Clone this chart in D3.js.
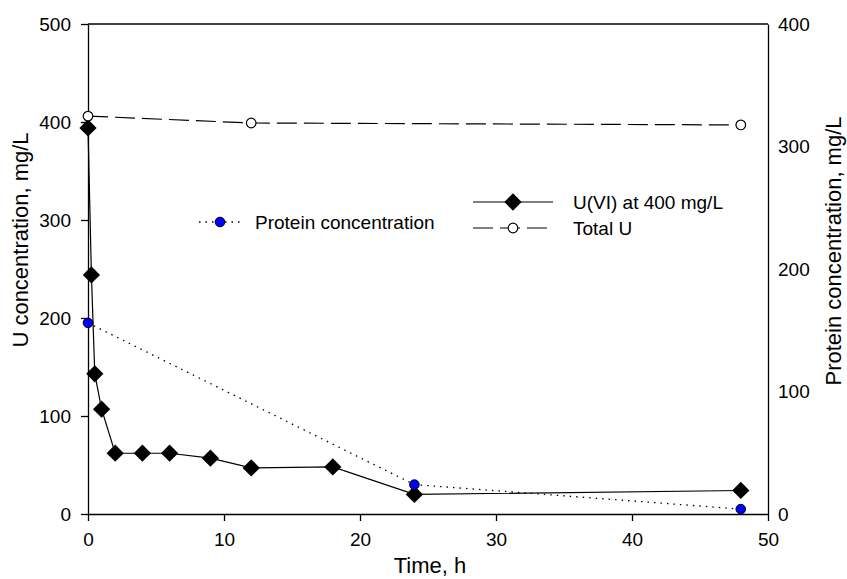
<!DOCTYPE html>
<html>
<head>
<meta charset="utf-8">
<script src="https://cdn.jsdelivr.net/npm/d3@7"></script>
<style>
  body { margin: 0; background: #fff; }
  text { font-family: "Liberation Sans", Arial, sans-serif; fill: #000; }
</style>
</head>
<body>
<svg id="chart" width="847" height="579"></svg>
<script>
// data
const uviTime = [0, 0.25, 0.5, 1, 2, 4, 6, 9, 12, 18, 24, 48];
const uviConc = [394, 244, 143, 107, 62, 62, 62, 57, 47, 48, 20, 24];

const totalTime = [0, 12, 48];
const totalConc = [406, 399, 397];

const proteinTime = [0, 24, 48];
const proteinConc = [156, 24, 4];

const xTicks = [0, 10, 20, 30, 40, 50];
const leftTicks = [0, 100, 200, 300, 400, 500];
const rightTicks = [0, 100, 200, 300, 400];

const svg = d3.select('#chart');
const width = 847, height = 579;
const margin = { top: 24, right: 79, bottom: 65, left: 88 };

const x = d3.scaleLinear().domain([0, 50]).range([margin.left, width - margin.right]);
const yL = d3.scaleLinear().domain([0, 500]).range([height - margin.bottom, margin.top]);
const yR = d3.scaleLinear().domain([0, 400]).range([height - margin.bottom, margin.top]);

const tickFont = '19px';
const titleFont = '22px';

// top frame line
svg.append('line')
    .attr('x1', x(0)).attr('x2', x(50))
    .attr('y1', yL(500)).attr('y2', yL(500))
    .attr('stroke', '#000').attr('stroke-width', 1.3);

const gx = svg.append('g')
    .attr('transform', `translate(0,${height - margin.bottom})`)
    .call(d3.axisBottom(x).tickValues(xTicks).tickSize(7).tickSizeOuter(0).tickPadding(12));

const gl = svg.append('g')
    .attr('transform', `translate(${margin.left},0)`)
    .call(d3.axisLeft(yL).tickValues(leftTicks).tickSize(7).tickSizeOuter(0).tickPadding(10));

const gr = svg.append('g')
    .attr('transform', `translate(${width - margin.right},0)`)
    .call(d3.axisRight(yR).tickValues(rightTicks).tickSize(0).tickSizeOuter(0).tickPadding(10));

[gx, gl, gr].forEach(g => {
    g.selectAll('path.domain').attr('stroke', '#000').attr('stroke-width', 1.3);
    g.selectAll('.tick line').attr('stroke', '#000').attr('stroke-width', 1.3);
    g.selectAll('.tick text')
        .attr('font-family', '"Liberation Sans", Arial, sans-serif')
        .attr('font-size', tickFont)
        .attr('fill', '#000');
});

// axis titles
svg.append('text')
    .attr('x', 430).attr('y', 573)
    .attr('text-anchor', 'middle')
    .attr('font-size', titleFont)
    .text('Time, h');

svg.append('text')
    .attr('transform', 'translate(28,240) rotate(-90)')
    .attr('text-anchor', 'middle')
    .attr('font-size', titleFont)
    .text('U concentration, mg/L');

svg.append('text')
    .attr('transform', 'translate(841,251) rotate(-90)')
    .attr('text-anchor', 'middle')
    .attr('font-size', titleFont)
    .text('Protein concentration, mg/L');

const diamond = d3.symbol().type(d3.symbolDiamond2).size(190);

// U(VI) series
const uvi = uviTime.map((t, i) => ({ t, v: uviConc[i] }));
svg.append('path')
    .datum(uvi)
    .attr('fill', 'none')
    .attr('stroke', '#000')
    .attr('stroke-width', 1.2)
    .attr('d', d3.line().x(d => x(d.t)).y(d => yL(d.v)));

svg.selectAll('path.uvi')
    .data(uvi)
    .enter()
    .append('path')
    .attr('class', 'uvi')
    .attr('transform', d => `translate(${x(d.t)},${yL(d.v)})`)
    .attr('d', diamond)
    .attr('fill', '#000');

// total U series
const total = totalTime.map((t, i) => ({ t, v: totalConc[i] }));
svg.append('path')
    .datum(total)
    .attr('fill', 'none')
    .attr('stroke', '#000')
    .attr('stroke-width', 1.2)
    .attr('stroke-dasharray', '20,7')
    .attr('d', d3.line().x(d => x(d.t)).y(d => yL(d.v)));

svg.selectAll('circle.total')
    .data(total)
    .enter()
    .append('circle')
    .attr('class', 'total')
    .attr('cx', d => x(d.t))
    .attr('cy', d => yL(d.v))
    .attr('r', 4.8)
    .attr('fill', '#fff')
    .attr('stroke', '#000')
    .attr('stroke-width', 1.2);

// protein series (right axis)
const protein = proteinTime.map((t, i) => ({ t, v: proteinConc[i] }));
svg.append('path')
    .datum(protein)
    .attr('fill', 'none')
    .attr('stroke', '#000')
    .attr('stroke-width', 1.3)
    .attr('stroke-dasharray', '1.5,5')
    .attr('d', d3.line().x(d => x(d.t)).y(d => yR(d.v)));

svg.selectAll('circle.protein')
    .data(protein)
    .enter()
    .append('circle')
    .attr('class', 'protein')
    .attr('cx', d => x(d.t))
    .attr('cy', d => yR(d.v))
    .attr('r', 4.8)
    .attr('fill', '#0000ff')
    .attr('stroke', '#000')
    .attr('stroke-width', 1);

// legends
const legProtein = svg.append('g').attr('transform', 'translate(0,222)');
legProtein.append('line')
    .attr('x1', 199).attr('x2', 241).attr('y1', 0).attr('y2', 0)
    .attr('stroke', '#000').attr('stroke-width', 1.3).attr('stroke-dasharray', '1.5,5');
legProtein.append('circle')
    .attr('cx', 220).attr('cy', 0).attr('r', 4.8)
    .attr('fill', '#0000ff').attr('stroke', '#000');
legProtein.append('text')
    .attr('x', 255).attr('y', 0).attr('dy', '0.35em')
    .attr('font-size', tickFont)
    .text('Protein concentration');

const legU = svg.append('g').attr('transform', 'translate(0,202)');
legU.append('line')
    .attr('x1', 473).attr('x2', 553).attr('y1', 0).attr('y2', 0)
    .attr('stroke', '#000').attr('stroke-width', 1.2);
legU.append('path')
    .attr('transform', 'translate(513,0)')
    .attr('d', diamond)
    .attr('fill', '#000');
legU.append('text')
    .attr('x', 573).attr('y', 0).attr('dy', '0.35em')
    .attr('font-size', tickFont)
    .text('U(VI) at 400 mg/L');

const legT = svg.append('g').attr('transform', 'translate(0,228)');
legT.append('line')
    .attr('x1', 473).attr('x2', 553).attr('y1', 0).attr('y2', 0)
    .attr('stroke', '#000').attr('stroke-width', 1.2)
    .attr('stroke-dasharray', '20,7');
legT.append('circle')
    .attr('cx', 513).attr('cy', 0).attr('r', 4.8)
    .attr('fill', '#fff').attr('stroke', '#000').attr('stroke-width', 1.2);
legT.append('text')
    .attr('x', 573).attr('y', 0).attr('dy', '0.35em')
    .attr('font-size', tickFont)
    .text('Total U');
</script>
</body>
</html>
